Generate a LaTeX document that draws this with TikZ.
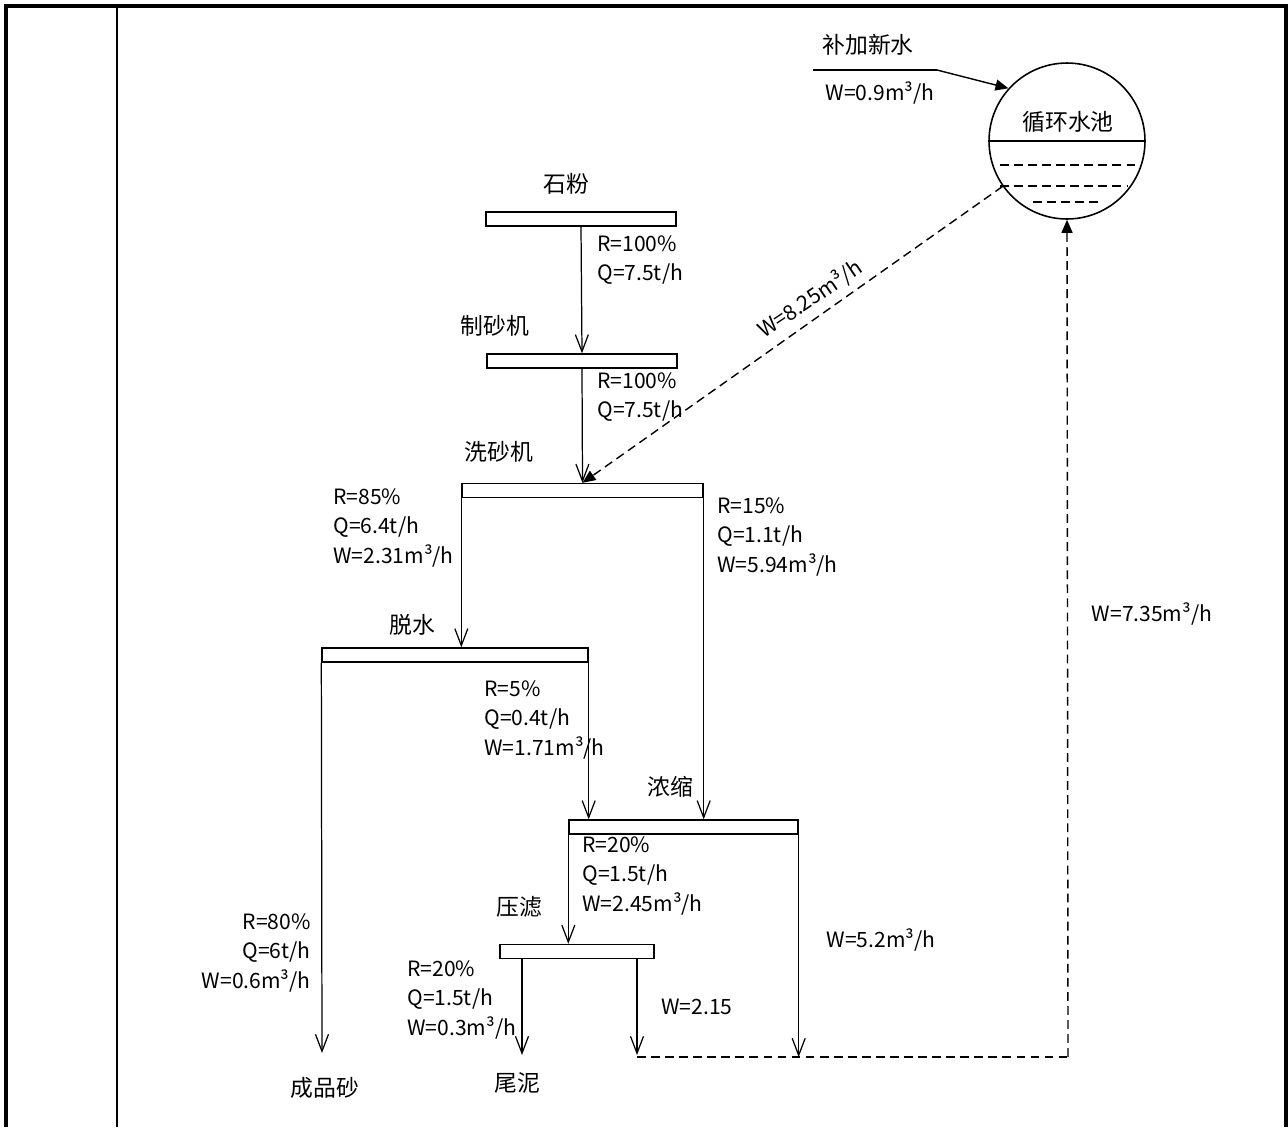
\documentclass[tikz,border=0pt]{standalone}
\usepackage{fontspec}
\setmainfont{Noto Sans CJK SC}
\usetikzlibrary{arrows.meta,calc}
\tikzset{
  bar/.style={rectangle, draw, line width=0.8pt, minimum height=0.28cm, inner sep=0pt},
  cnlbl/.style={font=\fontsize{13}{16}\selectfont, inner sep=0pt},
  flowlbl/.style={font=\fontsize{12}{17}\selectfont, inner sep=0pt, align=left},
  flow/.style={line width=0.7pt, -{Straight Barb[length=3.4mm,width=2.6mm]}},
  wline/.style={line width=0.8pt, dash pattern=on 5pt off 3pt, -{Triangle[length=2.6mm,width=2.2mm]}},
  wplain/.style={line width=0.8pt, dash pattern=on 5pt off 3pt},
  frame/.style={line width=1.8pt},
}
\begin{document}
\begin{tikzpicture}[x=0.02cm, y=-0.02cm]
  \useasboundingbox (0,0) rectangle (1288,1127);
  % table frame
  \draw[frame] (6,1127) -- (6,6) -- (1286,6) -- (1286,1127);
  \draw[line width=1.2pt] (117,6) -- (117,1127);

  % process bars
  \node[bar, minimum width=3.8cm] (shifen) at (581,219) {};
  \node[bar, minimum width=3.8cm] (zhisha) at (582,361) {};
  \node[bar, minimum width=4.82cm] (xisha) at (582.5,490.5) {};
  \node[bar, minimum width=5.32cm] (tuoshui) at (455,655) {};
  \node[bar, minimum width=4.58cm] (nongsuo) at (683.5,827) {};
  \node[bar, minimum width=3.08cm] (yalv) at (577,951.5) {};

  % names
  \node[cnlbl] (shifenT) at (566,184) {石粉};
  \node[cnlbl] (zhishaT) at (495,326) {制砂机};
  \node[cnlbl] (xishaT) at (499,452) {洗砂机};
  \node[cnlbl] (tuoshuiT) at (412,625) {脱水};
  \node[cnlbl] (nongsuoT) at (670,787) {浓缩};
  \node[cnlbl] (yalvT) at (519,907) {压滤};
  \node[cnlbl] (chengpin) at (325,1088) {成品砂};
  \node[cnlbl] (weini) at (517,1083) {尾泥};
  \node[cnlbl] (buxin) at (868,45) {补加新水};

  % circulating pool
  \node[circle, draw, line width=0.9pt, minimum size=3.12cm, inner sep=0pt] (pool) at (1067,141) {};
  \node[cnlbl] (poolT) at (1068,122) {循环水池};
  \draw[line width=0.8pt] (pool.west) -- (pool.east);
  \draw[wplain] (1000,165) -- (1140,165);
  \draw[wplain] (1000,186) -- (1128,186);
  \draw[wplain] (1033,202) -- (1100,202);

  % coordinates for free ends
  \coordinate (mudA) at (522,1055);
  \coordinate (backA) at (637,1057);
  \coordinate (backB) at (1068,1057);
  \coordinate (newA) at (813,70);
  \coordinate (newB) at (937,70);
  \coordinate (product) at (322,1053);

  % material flow
  \draw[flow] (shifen.south) -- (zhisha.north);
  \draw[flow] (zhisha.south) -- (xisha.north);
  \draw[flow] (xisha.south west) -- (xisha.south west |- tuoshui.north);
  \draw[flow] (xisha.south east) -- (xisha.south east |- nongsuo.north);
  \draw[flow] (tuoshui.south west) -- (product);
  \draw[flow] (tuoshui.south east) -- (tuoshui.south east |- nongsuo.north);
  \draw[flow] (nongsuo.south west) -- (nongsuo.south west |- yalv.north);
  \draw[flow] (nongsuo.south east) -- (nongsuo.south east |- backB);
  \draw[flow] (yalv.south west -| mudA) -- (mudA);
  \draw[flow] (yalv.south west -| backA) -- ($(backA)+(0,-2)$);

  % water flow
  \draw[line width=0.8pt] (newA) -- (newB);
  \draw[line width=0.8pt, -{Triangle[length=2.6mm,width=2.2mm]}] (newB) -- (pool.138);
  \draw[wline] (pool) -- (xisha.north);
  \draw[wplain] (backA) -- (backB);
  \draw[wline] (backB) -- (pool.south);

  % flow labels
  \node[flowlbl, rotate=34] (w825) at (810,299) {W=8.25m³/h};
  \node[flowlbl, anchor=west] (l1) at (597,260) {R=100\%\\Q=7.5t/h};
  \node[flowlbl, anchor=west] (l2) at (597,397) {R=100\%\\Q=7.5t/h};
  \node[flowlbl, anchor=west] (l3) at (333,528) {R=85\%\\Q=6.4t/h\\W=2.31m³/h};
  \node[flowlbl, anchor=west] (l4) at (717,537) {R=15\%\\Q=1.1t/h\\W=5.94m³/h};
  \node[flowlbl, anchor=west] (l5) at (484,720) {R=5\%\\Q=0.4t/h\\W=1.71m³/h};
  \node[flowlbl, anchor=west] (l6) at (582,876) {R=20\%\\Q=1.5t/h\\W=2.45m³/h};
  \node[flowlbl, anchor=east, align=right] (l7) at (311,953) {R=80\%\\Q=6t/h\\W=0.6m³/h};
  \node[flowlbl, anchor=west] (l8) at (407,1000) {R=20\%\\Q=1.5t/h\\W=0.3m³/h};
  \node[flowlbl] (l9) at (697,1007) {W=2.15};
  \node[flowlbl] (l10) at (881,940) {W=5.2m³/h};
  \node[flowlbl] (l11) at (1152,614) {W=7.35m³/h};
  \node[flowlbl] (l12) at (880,93) {W=0.9m³/h};
\end{tikzpicture}
\end{document}
